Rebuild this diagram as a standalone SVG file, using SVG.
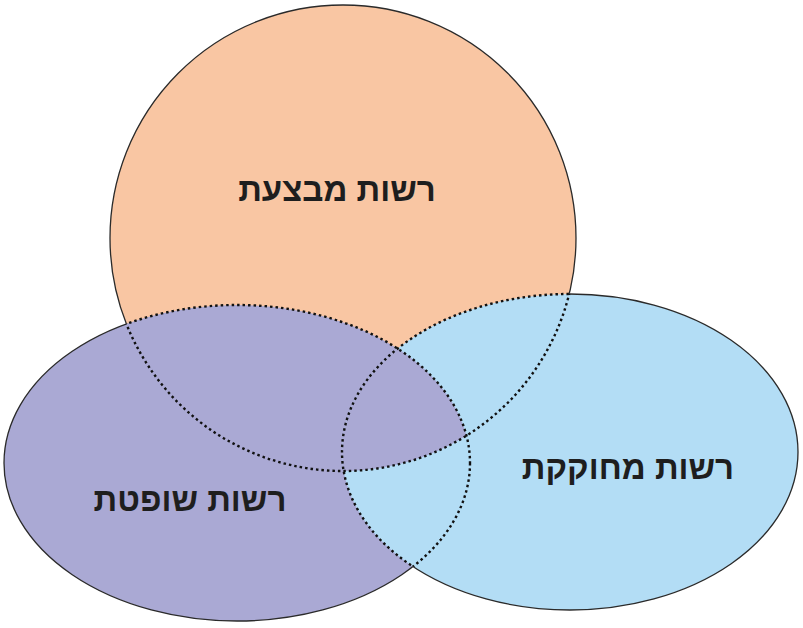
<svg xmlns="http://www.w3.org/2000/svg" width="803" height="628" viewBox="0 0 803 628">
<style>
.lbl{font-family:"Liberation Sans","DejaVu Sans",sans-serif;font-weight:bold;font-size:33px;fill:#1e1e1e;text-anchor:middle}
.solid{fill:none;stroke:#2a2a2a;stroke-width:1.3}
.dot{fill:none;stroke:#111;stroke-width:2.4;stroke-dasharray:2.5 3}
</style>
<defs>
<clipPath id="cO"><circle cx="343" cy="238" r="233"/></clipPath>
<clipPath id="cB"><ellipse cx="570" cy="452" rx="228" ry="158"/></clipPath>
<clipPath id="notO_P"><ellipse cx="237" cy="463" rx="233" ry="158"/><ellipse cx="570" cy="452" rx="228" ry="158"/></clipPath>
<clipPath id="notP"><circle cx="343" cy="238" r="233"/><ellipse cx="570" cy="452" rx="228" ry="158"/></clipPath>
<clipPath id="notB"><circle cx="343" cy="238" r="233"/><ellipse cx="237" cy="463" rx="233" ry="158"/></clipPath>
<mask id="mO"><rect width="803" height="628" fill="#fff"/><ellipse cx="237" cy="463" rx="233" ry="158"/><ellipse cx="570" cy="452" rx="228" ry="158"/></mask>
<mask id="mP"><rect width="803" height="628" fill="#fff"/><circle cx="343" cy="238" r="233"/><ellipse cx="570" cy="452" rx="228" ry="158"/></mask>
<mask id="mB"><rect width="803" height="628" fill="#fff"/><circle cx="343" cy="238" r="233"/><ellipse cx="237" cy="463" rx="233" ry="158"/></mask>
</defs>
<rect width="803" height="628" fill="#fff"/>
<g id="executive">
<circle cx="343" cy="238" r="233" fill="#f9c6a3"/>
</g>
<g id="judicial">
<ellipse cx="237" cy="463" rx="233" ry="158" fill="#aaa9d4"/>
</g>
<g id="legislative">
<ellipse cx="570" cy="452" rx="228" ry="158" fill="#b3ddf5"/>
</g>
<g id="center" clip-path="url(#cO)">
<ellipse cx="237" cy="463" rx="233" ry="158" fill="#aaa9d4" clip-path="url(#cB)"/>
</g>
<g id="connectors">
<circle class="solid" cx="343" cy="238" r="233" mask="url(#mO)"/>
<ellipse class="solid" cx="237" cy="463" rx="233" ry="158" mask="url(#mP)"/>
<ellipse class="solid" cx="570" cy="452" rx="228" ry="158" mask="url(#mB)"/>
<circle class="dot" cx="343" cy="238" r="233" clip-path="url(#notO_P)"/>
<ellipse class="dot" cx="237" cy="463" rx="233" ry="158" clip-path="url(#notP)"/>
<ellipse class="dot" cx="570" cy="452" rx="228" ry="158" clip-path="url(#notB)"/>
</g>
<text class="lbl" x="337" y="201">רשות מבצעת</text>
<text class="lbl" x="628" y="479">רשות מחוקקת</text>
<text class="lbl" x="190" y="511">רשות שופטת</text>
</svg>
